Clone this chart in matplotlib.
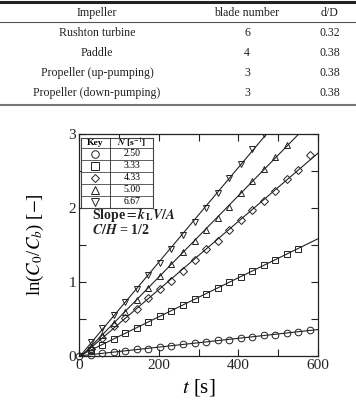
import numpy as np
import matplotlib
matplotlib.use('Agg')
import matplotlib.pyplot as plt
from matplotlib.lines import Line2D

plt.rcParams['font.family'] = ['Liberation Serif', 'DejaVu Serif']
plt.rcParams['mathtext.fontset'] = 'stix'

# impeller table
impellers = ["Rushton turbine", "Paddle", "Propeller (up-pumping)", "Propeller (down-pumping)"]
blade_numbers = ["6", "4", "3", "3"]
d_ratio = ["0.32", "0.38", "0.38", "0.38"]
table_header = ["Impeller", "blade number", "d/D"]

# ln(C0/Cb) vs t
t_all = [0, 29, 58, 87, 116, 145, 174, 203, 232, 261, 290, 319, 348, 377,
         406, 435, 464, 493, 522, 551, 580]
speeds = ["2.50", "3.33", "4.33", "5.00", "6.67"]
markers = ['o', 's', 'D', '^', 'v']
y_250 = [0, 0.02, 0.04, 0.05, 0.07, 0.09, 0.10, 0.12, 0.14, 0.16, 0.17,
         0.19, 0.21, 0.22, 0.24, 0.26, 0.28, 0.29, 0.31, 0.33, 0.35]
y_333 = [0, 0.08, 0.15, 0.23, 0.31, 0.38, 0.46, 0.54, 0.61, 0.69, 0.77,
         0.84, 0.92, 1.00, 1.07, 1.15, 1.23, 1.30, 1.38, 1.45]
y_433 = [0, 0.10, 0.24, 0.40, 0.52, 0.64, 0.79, 0.90, 1.02, 1.15, 1.30,
         1.45, 1.56, 1.70, 1.84, 1.97, 2.10, 2.23, 2.39, 2.51, 2.72]
y_500 = [0, 0.12, 0.28, 0.44, 0.60, 0.76, 0.92, 1.08, 1.24, 1.40, 1.55,
         1.70, 1.86, 2.02, 2.20, 2.37, 2.53, 2.69, 2.85]
y_667 = [0, 0.19, 0.38, 0.55, 0.73, 0.90, 1.09, 1.26, 1.45, 1.63, 1.81,
         2.00, 2.20, 2.40, 2.60, 2.80, 3.00]
series = [y_250, y_333, y_433, y_500, y_667]

fig = plt.figure(figsize=(3.56, 4.0), dpi=100)

# ---- table at the top ----
W, H = 356.0, 400.0
def fy(py):
    return 1 - py / H

fig.add_artist(Line2D([0, 1], [fy(1.5), fy(1.5)], color='#222222', lw=2.2))
fig.add_artist(Line2D([0, 1], [fy(22), fy(22)], color='#555555', lw=0.8))
fig.add_artist(Line2D([0, 1], [fy(105), fy(105)], color='#777777', lw=1.5))
col_x = [97 / W, 247 / W, 330 / W]
tc = '#222222'
for cx, h in zip(col_x, table_header):
    fig.text(cx, fy(13), h, ha='center', va='center', fontsize=8.6, color=tc)
row_y = [33, 53, 73, 93]
for ry, imp, bn, dd in zip(row_y, impellers, blade_numbers, d_ratio):
    fig.text(col_x[0], fy(ry), imp, ha='center', va='center', fontsize=8.6, color=tc)
    fig.text(col_x[1], fy(ry), bn, ha='center', va='center', fontsize=8.6, color=tc)
    fig.text(col_x[2], fy(ry), dd, ha='center', va='center', fontsize=8.6, color=tc)

# ---- main plot ----
ax = fig.add_axes([79 / W, 1 - 356 / H, (318 - 79) / W, (356 - 134) / H])
ink = '#222222'
t_line = np.array([0, 600])
for y, m in zip(series, markers):
    t = np.array(t_all[:len(y)])
    k, b = np.polyfit(t, y, 1)
    ax.plot(t_line, k * t_line + b, color=ink, lw=0.8, zorder=2)
    ms = 4.0 if m == 'D' else 4.8
    ax.plot(t, y, linestyle='none', marker=m, ms=ms, mfc='none', mec=ink,
            mew=0.7, zorder=3, clip_on=False if m == 'o' else True)

ax.set_xlim(0, 600)
ax.set_ylim(0, 3)
ax.set_xticks([0, 200, 400, 600])
ax.set_xticks([100, 300, 500], minor=True)
ax.set_yticks([0, 1, 2, 3])
ax.set_yticks([0.5, 1.5, 2.5], minor=True)
ax.tick_params(which='both', direction='in', top=True, right=True,
               length=5, width=0.8, labelsize=11, pad=2, colors=ink)
for s in ax.spines.values():
    s.set_linewidth(0.9)
    s.set_color(ink)

ax.set_xlabel(r'$t$ [s]', fontsize=15, labelpad=4)
ax.set_ylabel(r'ln($C_0$/$C_b$) [$-$]', fontsize=13.5, labelpad=16)

# ---- key box inside the plot ----
kax = fig.add_axes([81 / W, 1 - 208 / H, 72 / W, 70 / H])
kax.set_xlim(0, 72)
kax.set_ylim(70, 0)
kax.set_xticks([])
kax.set_yticks([])
kax.patch.set_facecolor('white')
for s in kax.spines.values():
    s.set_linewidth(0.8)
    s.set_color('#444444')
kax.axvline(29, color='#444444', lw=0.7)
row_edges = [10, 22, 34, 46, 58]
for e in row_edges:
    kax.axhline(e, color='#444444', lw=0.6)
kax.text(14, 5, 'Key', ha='center', va='center', fontsize=6.8, fontweight='bold')
kax.text(51, 5, r'$\boldsymbol{N}$ [s$^{-1}$]', ha='center', va='center', fontsize=6.8,
         fontweight='bold')
centers = [16, 28, 40, 52, 64]
for c, m, sp in zip(centers, markers, speeds):
    ms = 4.4 if m == 'D' else 5.4
    kax.plot([14], [c], marker=m, ms=ms, mfc='none', mec=ink, mew=0.7)
    kax.text(51, c, sp, ha='center', va='center', fontsize=7)

fig.text(92 / W, fy(215.5), r'Slope$=$$\boldsymbol{k}_{\mathbf{L}}\boldsymbol{V/A}$',
         ha='left', va='center', fontsize=10, fontweight='bold', color=ink)
fig.text(92 / W, fy(230), r'$\boldsymbol{C/H}$ = 1/2', ha='left', va='center',
         fontsize=10, fontweight='bold', color=ink)

fig.savefig('out.png', dpi=100)
